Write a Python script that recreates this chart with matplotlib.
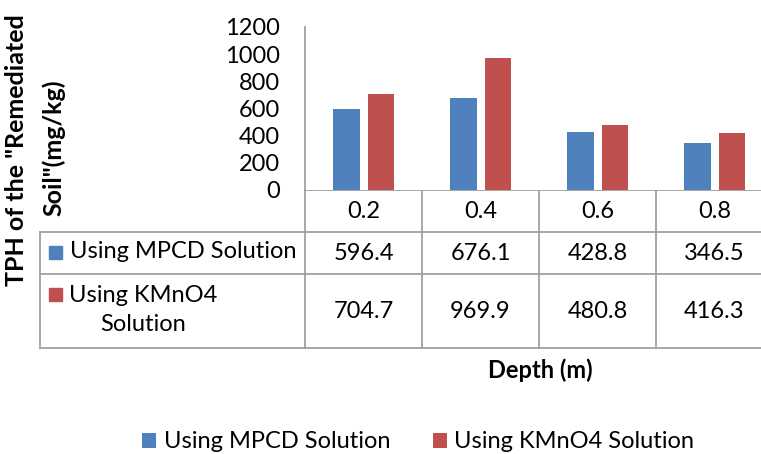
import numpy as np
import matplotlib
matplotlib.use('Agg')
import matplotlib.pyplot as plt
from matplotlib.transforms import blended_transform_factory

# 数据
depths = ['0.2', '0.4', '0.6', '0.8']
mpcd = [596.4, 676.1, 428.8, 346.5]
kmno4 = [704.7, 969.9, 480.8, 416.3]
series_names = ['Using MPCD Solution', 'Using KMnO4 Solution']
table_names = ['Using MPCD Solution', 'Using KMnO4\nSolution']
colors = ['#4F81BD', '#C0504D']
grid_col = '#A0A0A0'

plt.rcParams['font.family'] = ['Lato', 'DejaVu Sans']
fs = 17

W, H = 761, 454
fig = plt.figure(figsize=(W / 100, H / 100), dpi=100)

# 柱状图坐标轴 (像素位置换算)
ax = fig.add_axes([305 / W, 1 - 190 / H, (761 - 305) / W, (190 - 27) / H])
x = np.arange(len(depths))
bw = 0.225
ax.bar(x - 0.145, mpcd, bw, color=colors[0], label=series_names[0])
ax.bar(x + 0.150, kmno4, bw, color=colors[1], label=series_names[1])
ax.set_xlim(-0.5, 3.397)
ax.set_ylim(0, 1200)
ax.set_yticks(range(0, 1201, 200))
ax.tick_params(axis='y', length=0, pad=18, labelsize=fs)
ax.set_xticks([])
for s in ['top', 'right', 'bottom']:
    ax.spines[s].set_visible(False)
ax.spines['left'].set_color(grid_col)
ax.spines['left'].set_linewidth(1.3)

# 覆盖层，用于数据表
ov = fig.add_axes([0, 0, 1, 1], zorder=-1)
ov.set_xlim(0, W)
ov.set_ylim(H, 0)
ov.axis('off')
tr = blended_transform_factory(ax.transData, ov.transData)

lw = 1.3
row_y = [190, 232, 274, 348]
# 横线
ov.plot([-0.5, 3.6], [190, 190], color=grid_col, lw=lw, transform=tr)
for yy in row_y[1:]:
    ov.plot([40, W], [yy, yy], color=grid_col, lw=lw)
ov.plot([40, 40], [232, 348], color=grid_col, lw=lw)
# 竖线
for i in range(len(depths)):
    ov.plot([i - 0.5, i - 0.5], [190, 348], color=grid_col, lw=lw, transform=tr)

# 表格文字
for i, d in enumerate(depths):
    ov.text(i, 212, d, ha='center', va='center', fontsize=fs, transform=tr)
    ov.text(i, 253, f'{mpcd[i]:.1f}', ha='center', va='center', fontsize=fs, transform=tr)
    ov.text(i, 311, f'{kmno4[i]:.1f}', ha='center', va='center', fontsize=fs, transform=tr)

# 行标题
ov.add_patch(plt.Rectangle((49, 246), 13, 13, color=colors[0]))
ov.text(183, 252, table_names[0], ha='center', va='center', fontsize=fs)
ov.add_patch(plt.Rectangle((49, 288), 13, 13, color=colors[1]))
ov.text(143, 310, table_names[1], ha='center', va='center', fontsize=fs,
        multialignment='center', linespacing=1.45)

# 轴标题
ov.text(17, 150, 'TPH of the "Remediated', rotation=90, ha='center', va='center',
        fontsize=18, fontweight='bold')
ov.text(54, 148, 'Soil"(mg/kg)', rotation=90, ha='center', va='center',
        fontsize=18, fontweight='bold')
ov.text(540, 370, 'Depth (m)', ha='center', va='center', fontsize=fs, fontweight='bold')

# 图例
fig.legend(loc='center', bbox_to_anchor=(418 / W, 1 - 442 / H), ncol=2, frameon=False,
           fontsize=fs, handlelength=0.6, handleheight=0.6, handletextpad=0.3,
           columnspacing=1.8)

fig.savefig('out.png', dpi=100)
